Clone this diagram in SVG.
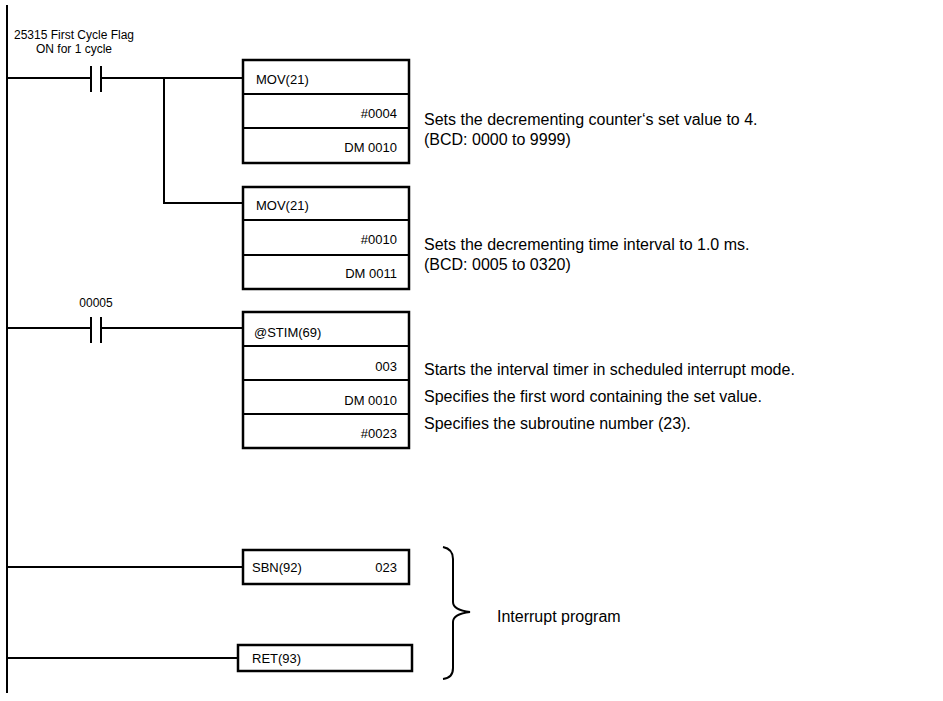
<svg xmlns="http://www.w3.org/2000/svg" width="943" height="701" viewBox="0 0 943 701">
<style>
.l{stroke:#000;stroke-width:2;fill:none}
.b{stroke:#000;stroke-width:2.5;fill:#fff}
text{font-family:"Liberation Sans",Arial,sans-serif;font-size:13px;fill:#000}
.s{font-size:12px;text-anchor:middle}
.d{font-size:16px}
.r{text-anchor:end}
</style>
<rect width="943" height="701" fill="#fff"/>
<g id="connectors">
<path class="l" d="M7 5V693"/>
<path class="l" d="M7 78H91M101 78H243M164 78V203H243"/>
<path class="l" stroke-width="2.5" d="M91 66V92M101 66V92M91 317V343M101 317V343"/>
<path class="l" d="M7 328H91M101 328H243"/>
<path class="l" d="M7 567H243M7 658H238"/>
<path class="l" stroke-width="1.5" d="M443 547Q453 549 453 559V602Q453 610 470 612Q453 614 453 622V668Q453 678 443 679"/>
</g>
<g id="contact1"><text class="s" x="74" y="39">25315 First Cycle Flag</text><text class="s" x="74" y="53">ON for 1 cycle</text></g>
<g id="contact2"><text class="s" x="96" y="307">00005</text></g>
<g id="mov1"><rect class="b" x="243" y="60" width="166" height="103"/><path class="l" stroke-width="2.5" d="M243 94H409M243 128H409"/>
<text x="256" y="84">MOV(21)</text><text class="r" x="397" y="118">#0004</text><text class="r" x="397" y="152">DM 0010</text></g>
<g id="mov2"><rect class="b" x="243" y="187" width="166" height="102"/><path class="l" stroke-width="2.5" d="M243 220H409M243 255H409"/>
<text x="256" y="210">MOV(21)</text><text class="r" x="397" y="244">#0010</text><text class="r" x="397" y="278">DM 0011</text></g>
<g id="stim"><rect class="b" x="243" y="312" width="166" height="136"/><path class="l" stroke-width="2.5" d="M243 346H409M243 380H409M243 414H409"/>
<text x="254" y="337">@STIM(69)</text><text class="r" x="397" y="371">003</text><text class="r" x="397" y="405">DM 0010</text><text class="r" x="397" y="438">#0023</text></g>
<g id="sbn"><rect class="b" x="243" y="550" width="166" height="34"/><text x="252" y="572">SBN(92)</text><text class="r" x="397" y="572">023</text></g>
<g id="ret"><rect class="b" x="238" y="645" width="174" height="26"/><text x="252" y="663">RET(93)</text></g>
<g id="notes">
<text class="d" x="424" y="125">Sets the decrementing counter‘s set value to 4.</text>
<text class="d" x="424" y="145">(BCD: 0000 to 9999)</text>
<text class="d" x="424" y="250">Sets the decrementing time interval to 1.0 ms.</text>
<text class="d" x="424" y="270">(BCD: 0005 to 0320)</text>
<text class="d" x="424" y="375">Starts the interval timer in scheduled interrupt mode.</text>
<text class="d" x="424" y="402">Specifies the first word containing the set value.</text>
<text class="d" x="424" y="429">Specifies the subroutine number (23).</text>
<text class="d" x="497" y="622">Interrupt program</text>
</g>
</svg>
